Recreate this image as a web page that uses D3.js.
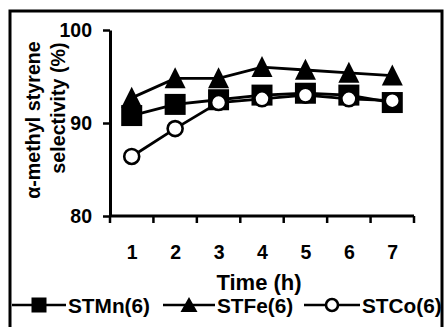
<!DOCTYPE html>
<html><head><meta charset="utf-8">
<script src="https://cdn.jsdelivr.net/npm/d3@7"></script>
<style>
html,body{margin:0;padding:0;background:#fff;}
text{font-family:"Liberation Sans",Arial,sans-serif;font-weight:bold;fill:#000;}
</style></head>
<body><svg id="c" width="445" height="327"></svg>
<script>
const categories = ["1","2","3","4","5","6","7"];
const yTicks = [80, 90, 100];
const seriesNames = ["STMn(6)", "STFe(6)", "STCo(6)"];
const stmn = [90.8, 92.0, 92.5, 93.0, 93.2, 93.0, 92.2];
const stfe = [92.7, 94.8, 94.8, 96.0, 95.7, 95.4, 95.1];
const stco = [86.4, 89.4, 92.2, 92.6, 93.0, 92.6, 92.4];

const svg = d3.select("#c");
const x = d3.scalePoint().domain(categories).range([110, 414]).padding(0.5);
const y = d3.scaleLinear().domain([80, 100]).range([216, 30]);

// outer frame
svg.append("rect").attr("x", 10).attr("y", 11).attr("width", 432).attr("height", 340)
  .attr("fill", "none").attr("stroke", "#000").attr("stroke-width", 3);

// y axis
const ya = svg.append("g").attr("transform", "translate(110,0)")
  .call(d3.axisLeft(y).tickValues(yTicks).tickSize(7).tickPadding(11).tickSizeOuter(0));
ya.select(".domain").attr("stroke-width", 3);
ya.selectAll(".tick line").attr("stroke-width", 2.5);
ya.selectAll("text").style("font-size", "19.5px").style("font-weight", "bold");

// x axis
const xa = svg.append("g").attr("transform", "translate(0,216)")
  .call(d3.axisBottom(x).tickSize(0).tickPadding(29).tickSizeOuter(0));
xa.select(".domain").attr("stroke-width", 3).attr("d", `M${x.range()[0]},0H${x.range()[1]}`);
xa.selectAll("text").style("font-size", "19.5px").style("font-weight", "bold");
const step = x.step();
const edges = categories.map(c => x(c) - step / 2).concat([x(categories[categories.length - 1]) + step / 2]);
xa.selectAll(".edge").data(edges).enter().append("line")
  .attr("x1", d => d).attr("x2", d => d).attr("y1", 0).attr("y2", 7)
  .attr("stroke", "#000").attr("stroke-width", 2.5);

// titles
svg.append("text").attr("transform", "translate(40,120) rotate(-90)")
  .attr("text-anchor", "middle").style("font-size", "19.7px").text("α-methyl styrene");
svg.append("text").attr("transform", "translate(65,108) rotate(-90)")
  .attr("text-anchor", "middle").style("font-size", "19.7px").text("selectivity (%)");
svg.append("text").attr("x", 259).attr("y", 290).attr("text-anchor", "middle")
  .style("font-size", "22px").text("Time (h)");

const line = d3.line().x((d, i) => x(categories[i])).y(d => y(d));

function square(g, s) {
  return g.append("rect").attr("x", -s / 2).attr("y", -s / 2).attr("width", s).attr("height", s).attr("fill", "#000");
}
function triangle(g, w, h) {
  return g.append("path").attr("d", `M0,${-h * 0.53}L${w / 2},${h * 0.47}L${-w / 2},${h * 0.47}Z`).attr("fill", "#000");
}
function circle(g, r) {
  return g.append("circle").attr("r", r).attr("fill", "#fff").attr("stroke", "#000").attr("stroke-width", 2.6);
}

const series = [
  {vals: stmn, m: g => square(g, 21)},
  {vals: stfe, m: g => triangle(g, 21, 21)},
  {vals: stco, m: g => circle(g, 7.5)}
];
series.forEach(s => {
  svg.append("path").attr("d", line(s.vals)).attr("fill", "none").attr("stroke", "#000").attr("stroke-width", 2.8);
  s.vals.forEach((v, i) => {
    const g = svg.append("g").attr("transform", `translate(${x(categories[i])},${y(v)})`);
    s.m(g);
  });
});

// legend
const legY = 305;
const legItems = [
  {x0: 12, x1: 66, tx: 68, m: g => square(g, 15)},
  {x0: 163, x1: 215, tx: 217, m: g => triangle(g, 17, 15)},
  {x0: 304, x1: 360, tx: 362, m: g => circle(g, 6)}
];
legItems.forEach((it, i) => {
  svg.append("line").attr("x1", it.x0).attr("x2", it.x1).attr("y1", legY).attr("y2", legY)
    .attr("stroke", "#000").attr("stroke-width", 2.6);
  const g = svg.append("g").attr("transform", `translate(${(it.x0 + it.x1) / 2},${legY})`);
  it.m(g);
  svg.append("text").attr("x", it.tx).attr("y", legY + 8).style("font-size", "20.8px").text(seriesNames[i]);
});
</script></body></html>
